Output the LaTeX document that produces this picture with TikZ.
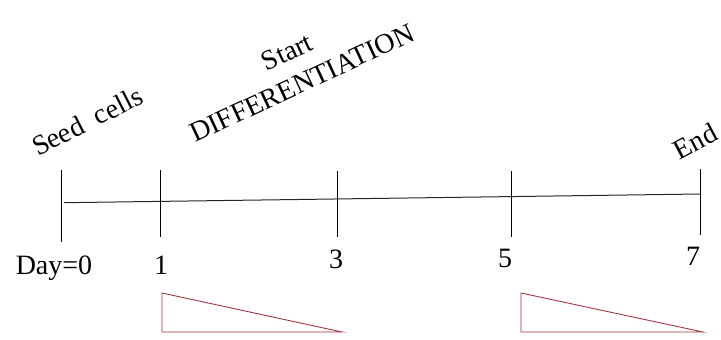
\documentclass[tikz,border=0pt]{standalone}
\usepackage{fontspec}
\setmainfont{Liberation Serif}
\definecolor{tri}{RGB}{160,55,60}
\begin{document}
\begin{tikzpicture}[x=1pt,y=-1pt,
  lbl/.style={inner sep=0pt,font=\fontsize{28}{30}\selectfont},
  rot/.style={lbl,rotate=#1},
  tick/.style={line width=1pt,black},
  axis/.style={line width=1pt,black!85},
  ramp/.style={draw=tri,line width=0.9pt}]
\useasboundingbox (0,0) rectangle (721,340);
% ticks
\coordinate (a0) at (61,170);  \coordinate (b0) at (61,242);
\coordinate (a1) at (160,170); \coordinate (b1) at (160,237);
\coordinate (a3) at (337,171); \coordinate (b3) at (337,237);
\coordinate (a5) at (511,171); \coordinate (b5) at (511,237);
\coordinate (a7) at (700,169); \coordinate (b7) at (700,235);
\foreach \i in {0,1,3,5,7} \draw[tick] (a\i) -- (b\i);
% axis
\coordinate (L) at (64,202.7);
\coordinate (R) at (700,194);
\draw[axis] (L) -- (R);
% day labels
\node[lbl,anchor=base] (d0) at (54,274) {Day=0};
\node[lbl,anchor=base] (d1) at (161,274) {1};
\node[lbl,anchor=base] (d3) at (336,268) {3};
\node[lbl,anchor=base] (d5) at (505,267) {5};
\node[lbl,anchor=base] (d7) at (693,265) {7};
% rotated labels
\node[rot=27] (seed) at (87,121) {Seed\ \ cells};
\node[rot=25] (start) at (287,52) {Start};
\node[rot=25] (diff) at (302,83) {DIFFERENTIATION};
\node[rot=28] (end) at (695,141) {End};
% ramps
\coordinate (p1) at (162,293); \coordinate (q1) at (162,332); \coordinate (r1) at (342,332);
\coordinate (p2) at (521,293); \coordinate (q2) at (521,332); \coordinate (r2) at (703,332);
\draw[ramp] (p1) -- (q1) -- (r1) -- cycle;
\draw[ramp] (p2) -- (q2) -- (r2) -- cycle;
\end{tikzpicture}
\end{document}
